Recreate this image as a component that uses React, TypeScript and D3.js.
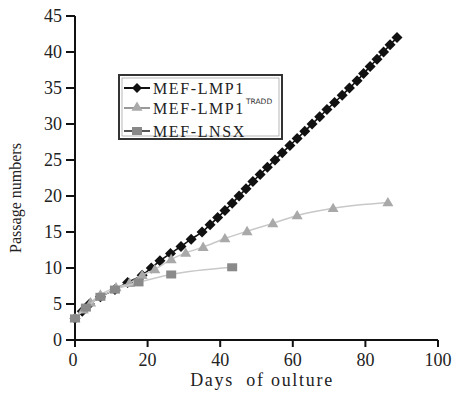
import React from "react";
import * as d3 from "d3";

const lmp1Days = [0, 2, 4, 7, 11, 14.5, 18.5, 21, 23.4, 26.3, 29.2, 32, 35, 37.2, 39.3, 41.3, 43.3, 45.2, 47.1, 49, 51, 53, 55.1, 57.1, 59.2, 61.2, 63.3, 65.3, 67.4, 69.4, 71.5, 73.6, 75.6, 77.7, 79.5, 81.3, 83.2, 85, 86.8, 88.7];
const lmp1Passage = [3, 4, 5, 6, 7, 8, 9, 10, 11, 12, 13, 14, 15, 16, 17, 18, 19, 20, 21, 22, 23, 24, 25, 26, 27, 28, 29, 30, 31, 32, 33, 34, 35, 36, 37, 38, 39, 40, 41, 42];

const traddDays = [0, 2.3, 4.3, 7, 11.3, 15, 18.5, 22, 26.5, 30.5, 35.3, 41.3, 47.4, 54.5, 61.2, 71.1, 86.2];
const traddPassage = [3, 4.2, 5.2, 6.3, 7.3, 7.9, 9, 9.8, 11.2, 12.1, 12.9, 14.1, 15.1, 16.2, 17.3, 18.3, 19.1];

const lnsxDays = [0, 3, 7, 11, 17.5, 26.5, 43.3];
const lnsxPassage = [3, 4.5, 6, 7, 8, 9.1, 10.1];

const xTicks = [0, 20, 40, 60, 80, 100];
const yTicks = [0, 5, 10, 15, 20, 25, 30, 35, 40, 45];

const serif = "'Liberation Serif', 'DejaVu Serif', serif";

export default function App() {
  const W = 458, H = 394;
  const x = d3.scaleLinear().domain([0, 100]).range([75, 438]);
  const y = d3.scaleLinear().domain([0, 45]).range([340, 16]);

  const mk = (xs: number[], ys: number[]) => xs.map((d, i) => [d, ys[i]] as [number, number]);
  const lmp1 = mk(lmp1Days, lmp1Passage);
  const tradd = mk(traddDays, traddPassage);
  const lnsx = mk(lnsxDays, lnsxPassage);

  const line = d3.line<[number, number]>().x(d => x(d[0])).y(d => y(d[1])).curve(d3.curveMonotoneX);

  const diamond = (cx: number, cy: number, r = 5) => `M${cx},${cy - r}L${cx + r},${cy}L${cx},${cy + r}L${cx - r},${cy}Z`;
  const tri = (cx: number, cy: number, r = 5) => `M${cx},${cy - r}L${cx + r},${cy + r * 0.7}L${cx - r},${cy + r * 0.7}Z`;

  return (
    <svg width={W} height={H} style={{ position: "absolute", left: 0, top: 0, background: "#fff" }}>
      {/* axes */}
      <line x1={x(0)} x2={x(0)} y1={y(45)} y2={346} stroke="#111" strokeWidth={2} />
      <line x1={x(0)} x2={x(100)} y1={y(0)} y2={y(0)} stroke="#111" strokeWidth={2} />
      {yTicks.map(t => (
        <g key={"y" + t}>
          <line x1={x(0) - 9} x2={x(0)} y1={y(t)} y2={y(t)} stroke="#111" strokeWidth={2} />
          <text x={62} y={y(t)} dy="0.35em" textAnchor="end" fontFamily={serif} fontSize={18} fill="#222">{t}</text>
        </g>
      ))}
      {xTicks.map(t => (
        <g key={"x" + t}>
          <line x1={x(t)} x2={x(t)} y1={y(0)} y2={y(0) + 7} stroke="#111" strokeWidth={2} />
          <text x={x(t) - (t === 0 ? 2 : 0)} y={366} textAnchor="middle" fontFamily={serif} fontSize={18} fill="#222">{t}</text>
        </g>
      ))}
      <text x={262} y={386} textAnchor="middle" fontFamily={serif} fontSize={18} fill="#222" letterSpacing={1.7} style={{ whiteSpace: "pre" }}>{"Days  of oulture"}</text>
      <text transform="translate(21,198) rotate(-90)" textAnchor="middle" fontFamily={serif} fontSize={16} fill="#222">Passage numbers</text>

      {/* series */}
      <path d={line(lmp1) || ""} fill="none" stroke="#111" strokeWidth={1.6} />
      {lmp1.map((d, i) => (
        <path key={"a" + i} d={diamond(x(d[0]), y(d[1]), 5.5)} fill="#111" />
      ))}
      <path d={line(tradd) || ""} fill="none" stroke="#c8c8c8" strokeWidth={1.5} />
      {tradd.map((d, i) => (
        <path key={"b" + i} d={tri(x(d[0]), y(d[1]), 5.5)} fill="#a9a9a9" />
      ))}
      <path d={line(lnsx) || ""} fill="none" stroke="#c8c8c8" strokeWidth={1.5} />
      {lnsx.map((d, i) => (
        <rect key={"c" + i} x={x(d[0]) - 5} y={y(d[1]) - 4} width={10} height={8} fill="#8a8a8a" />
      ))}

      {/* legend */}
      <rect x={119} y={75} width={163} height={64} fill="#fff" stroke="#333" strokeWidth={2} />
      <rect x={122} y={78} width={157} height={58} fill="none" stroke="#888" strokeWidth={0.6} />
      <line x1={124} x2={150} y1={88} y2={88} stroke="#111" strokeWidth={2} />
      <path d={diamond(137, 88, 5)} fill="#111" />
      <line x1={124} x2={150} y1={108} y2={108} stroke="#999" strokeWidth={2} />
      <path d={tri(137, 107, 5.5)} fill="#aaa" />
      <line x1={124} x2={150} y1={131} y2={131} stroke="#555" strokeWidth={2} />
      <rect x={132} y={127} width={10} height={8} fill="#888" />
      <text x={153} y={94} fontFamily={serif} fontSize={16} letterSpacing={1.6} fill="#222">MEF-LMP1</text>
      <text x={153} y={114} fontFamily={serif} fontSize={16} letterSpacing={1.6} fill="#222">MEF-LMP1</text>
      <text x={246} y={104} fontFamily="'DejaVu Sans', sans-serif" fontSize={7.5} fill="#333">TRADD</text>
      <text x={153} y={137} fontFamily={serif} fontSize={16} letterSpacing={1.6} fill="#222">MEF-LNSX</text>
    </svg>
  );
}
